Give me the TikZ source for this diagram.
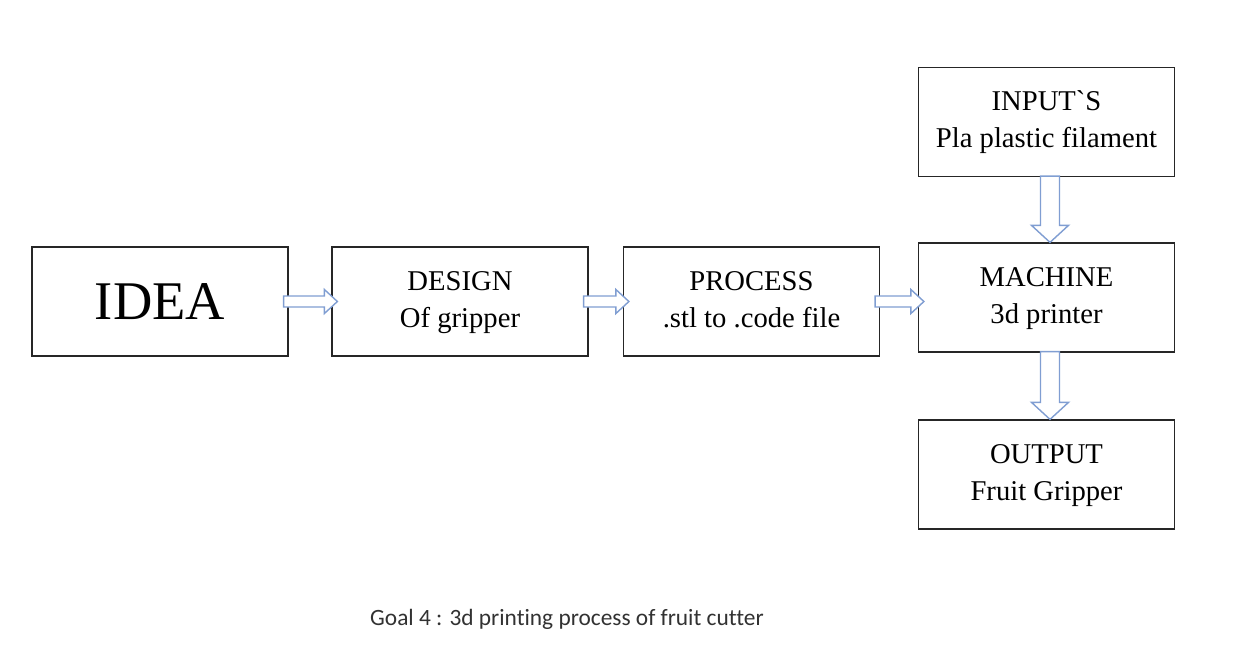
\documentclass[tikz,border=0pt]{standalone}
\usepackage{fontspec}
\setmainfont{Liberation Serif}
\newfontfamily\captionfont[Ligatures={NoCommon}]{Carlito}
\usetikzlibrary{positioning, calc}

\definecolor{arrowblue}{RGB}{128,158,210}
\definecolor{captiongray}{RGB}{50,50,50}

\tikzset{
  box/.style={draw=black!85, line width=0.7pt, minimum width=5.12cm,
    minimum height=2.18cm, align=center, inner sep=0pt,
    font=\fontsize{16.3}{21.5}\selectfont},
  blockarrow/.style={draw=arrowblue, fill=white, line width=0.8pt, line join=miter}
}

% two centred lines, set a little low in the box
\newcommand{\twolines}[2]{\raisebox{-0.06cm}{\begin{tabular}{@{}c@{}}#1\\#2\end{tabular}}}
% hollow block arrow, left to right
\newcommand{\blockarrowh}[2]{%
  \draw[blockarrow] ($(#1.east)+(-0.1,0.11)$) -- ($(#2.west |- #1.east)+(-0.14,0.11)$)
    -- ++(0,0.13) -- ($(#2.west |- #1.east)+(0.12,0)$)
    -- ($(#2.west |- #1.east)+(-0.14,-0.24)$) -- ++(0,0.13)
    -- ($(#1.east)+(-0.1,-0.11)$) -- cycle;}
% hollow block arrow, top to bottom
\newcommand{\blockarrowv}[2]{%
  \draw[blockarrow] ($(#1.south)+(-0.12,0.02)$) -- ($(#2.north)+(-0.12,0.34)$)
    -- ++(-0.18,0) -- ($(#2.north)+(0.07,0)$)
    -- ($(#2.north)+(0.44,0.34)$) -- ++(-0.18,0)
    -- ($(#1.south)+(0.26,0.02)$) -- cycle;}

\begin{document}
\begin{tikzpicture}[on grid]
  \useasboundingbox (0,0) rectangle (24.94,-13.24);
  \node[box, font=\fontsize{31}{36}\selectfont] (idea) at (3.2,-6.03) {IDEA};
  \node[box] (design) [right=6cm of idea] {\twolines{DESIGN}{Of gripper}};
  \node[box] (process) [right=5.83cm of design] {\twolines{PROCESS}{.stl to .code file}};
  \node[box] (machine) [right=5.9cm of process, yshift=0.08cm] {\twolines{MACHINE}{3d printer}};
  \node[box] (input) [above=3.51cm of machine] {INPUT\textasciigrave S\\Pla plastic filament};
  \node[box] (output) [below=3.54cm of machine] {\twolines{OUTPUT}{Fruit Gripper}};
  \node[text=captiongray, font=\captionfont\fontsize{13.3}{16}\selectfont]
    (caption) at (11.34,-12.38) {Goal 4 : 3d printing process of fruit cutter};

  \blockarrowh{idea}{design}
  \blockarrowh{design}{process}
  \blockarrowh{process}{machine}
  \blockarrowv{input}{machine}
  \blockarrowv{machine}{output}
\end{tikzpicture}
\end{document}
